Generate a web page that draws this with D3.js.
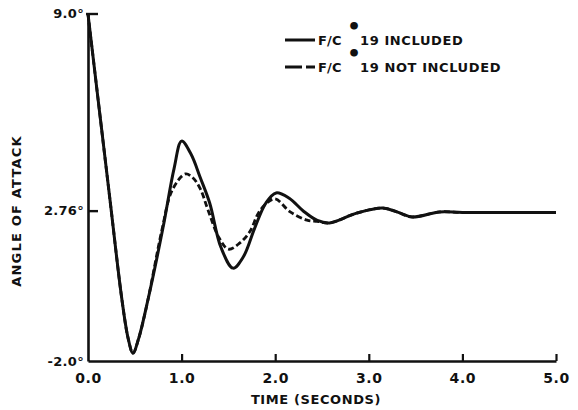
<!DOCTYPE html>
<html>
<head>
<meta charset="utf-8">
<script src="https://cdn.jsdelivr.net/npm/d3@7"></script>
<style>
  html, body { margin: 0; padding: 0; background: #fff; }
  svg { display: block; }
  text { font-family: "DejaVu Sans", "Liberation Sans", sans-serif; font-weight: bold; fill: #111; }
</style>
</head>
<body>
<svg id="chart" width="578" height="410"></svg>
<script>
// ---- data ----
const timeSolid = [0, 0.235, 0.363, 0.43, 0.48, 0.54, 0.64, 0.80, 0.92, 1.00, 1.10, 1.20, 1.30, 1.42, 1.55, 1.66, 1.78, 1.90, 2.01, 2.15, 2.30, 2.45, 2.58, 2.87, 3.15, 3.30, 3.46, 3.76, 4.0, 4.5, 5.0];
const angleSolid = [8.98, 3.1, -0.07, -1.3, -1.75, -1.3, -0.07, 2.2, 4.1, 4.96, 4.55, 3.8, 3.0, 1.6, 0.94, 1.3, 2.2, 3.0, 3.32, 3.15, 2.75, 2.45, 2.37, 2.68, 2.84, 2.72, 2.56, 2.72, 2.7, 2.7, 2.7];

const timeDashed = [0, 0.235, 0.363, 0.43, 0.48, 0.54, 0.64, 0.79, 0.90, 1.04, 1.12, 1.20, 1.28, 1.40, 1.50, 1.62, 1.73, 1.82, 1.91, 2.00, 2.16, 2.34, 2.45, 2.58, 2.87, 3.15, 3.30, 3.46, 3.76, 4.0, 4.5, 5.0];
const angleDashed = [8.98, 3.1, -0.07, -1.3, -1.75, -1.3, -0.07, 2.15, 3.41, 3.92, 3.8, 3.45, 2.8, 1.9, 1.54, 1.73, 2.1, 2.68, 3.0, 3.13, 2.72, 2.46, 2.42, 2.37, 2.68, 2.84, 2.72, 2.56, 2.72, 2.7, 2.7, 2.7];

const xTicks = [0, 1, 2, 3, 4, 5];
const xTickLabels = ["0.0", "1.0", "2.0", "3.0", "4.0", "5.0"];
const yTicks = [-2, 2.76, 9];
const yTickLabels = ["-2.0°", "2.76°", "9.0°"];
const seriesNames = ["F/C", "19 INCLUDED", "19 NOT INCLUDED"];
const xTitle = "TIME (SECONDS)";
const yTitle = "ANGLE OF ATTACK";

// ---- chart ----
const svg = d3.select("#chart");
const x = d3.scaleLinear().domain([0, 5]).range([88, 556]);
const y = d3.scaleLinear().domain([-2, 9]).range([361, 13.5]);

// x axis
const xAxis = d3.axisBottom(x)
  .tickValues(xTicks)
  .tickFormat((d, i) => xTickLabels[i])
  .tickSizeInner(-7).tickSizeOuter(0);
const gx = svg.append("g").attr("transform", `translate(0,${y(-2)})`).call(xAxis);
gx.select(".domain").attr("stroke", "#111").attr("stroke-width", 2.6);
gx.selectAll(".tick line").attr("stroke", "#111").attr("stroke-width", 2.2)
  .attr("opacity", d => d === 0 ? 0 : 1);
gx.selectAll(".tick text").attr("y", 22).attr("dy", 0).attr("font-size", 14)
  .attr("letter-spacing", 0.6).attr("font-family", null);

// y axis
const yAxis = d3.axisLeft(y)
  .tickValues(yTicks)
  .tickFormat((d, i) => yTickLabels[i])
  .tickSizeInner(-10).tickSizeOuter(0);
const gy = svg.append("g").attr("transform", `translate(${x(0)},0)`).call(yAxis);
gy.select(".domain").attr("stroke", "#111").attr("stroke-width", 2.6);
gy.selectAll(".tick line").attr("stroke", "#111").attr("stroke-width", 2.4)
  .attr("x1", d => d === 9 ? -2 : 0)
  .attr("opacity", d => d === -2 ? 0 : 1);
gy.selectAll(".tick text").attr("x", -4).attr("font-size", 13)
  .attr("letter-spacing", 0.3).attr("font-family", null);

// axis titles
svg.append("text").attr("x", 316).attr("y", 404).attr("text-anchor", "middle")
  .attr("font-size", 13).attr("letter-spacing", 0.6).text(xTitle);
svg.append("text").attr("transform", "translate(21,211) rotate(-90)")
  .attr("text-anchor", "middle").attr("font-size", 13).attr("letter-spacing", 1.2).text(yTitle);

// lines
const line = d3.line().x(d => x(d[0])).y(d => y(d[1])).curve(d3.curveCatmullRom.alpha(0.5));
const solidData = timeSolid.map((t, i) => [t, angleSolid[i]]);
const dashedData = timeDashed.map((t, i) => [t, angleDashed[i]]);

svg.append("path").datum(dashedData).attr("d", line)
  .attr("fill", "none").attr("stroke", "#111").attr("stroke-width", 2.8)
  .attr("stroke-dasharray", "6,3");
svg.append("path").datum(solidData).attr("d", line)
  .attr("fill", "none").attr("stroke", "#111").attr("stroke-width", 3)
  .attr("stroke-linejoin", "round");

// legend
const legend = [
  { y: 40, dash: false, label: seriesNames[1] },
  { y: 67, dash: true, label: seriesNames[2] }
];
legend.forEach(l => {
  svg.append("line").attr("x1", 285).attr("x2", 315).attr("y1", l.y).attr("y2", l.y)
    .attr("stroke", "#111").attr("stroke-width", 3)
    .attr("stroke-dasharray", l.dash ? "17,4,9,0" : null);
  svg.append("text").attr("x", 318).attr("y", l.y + 5).attr("font-size", 13)
    .attr("letter-spacing", 0.2).text(seriesNames[0]);
  svg.append("text").attr("x", 354).attr("y", l.y - 6).attr("font-size", 22)
    .attr("text-anchor", "middle").text("•");
  svg.append("text").attr("x", 360).attr("y", l.y + 5).attr("font-size", 13)
    .attr("letter-spacing", 0.6).text(l.label);
});
</script>
</body>
</html>
